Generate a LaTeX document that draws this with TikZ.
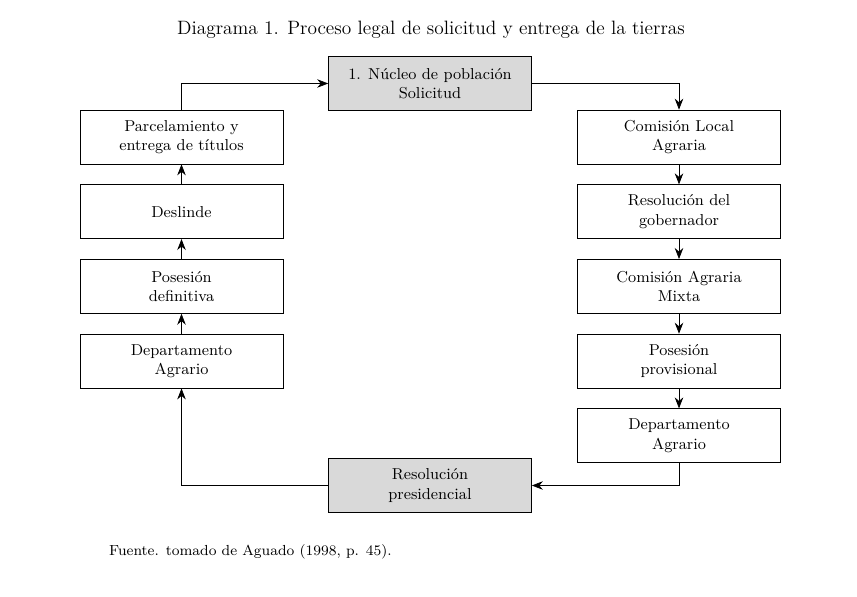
\documentclass[tikz,border=0pt]{standalone}
\usepackage{tikz}
\usetikzlibrary{arrows.meta, positioning}
\tikzstyle{paso} = [rectangle, minimum height=1.08cm, minimum width=4.06cm, text centered, align=center, draw=black, font=\small]
\tikzstyle{clave} = [paso, fill=gray!30]
\tikzstyle{arrow} = [->,>={Stealth[length=2.2mm,width=1.7mm]}]

\begin{document}
\begin{tikzpicture}[x=0.02cm, y=-0.02cm]
        \useasboundingbox (0,0) rectangle (857,597);
        \node (titulo) at (431,30) {\fontsize{11}{13}\selectfont Diagrama 1. Proceso legal de solicitud y entrega de la tierras};
        \node (nucleo) [clave] at (430,83.5) {1. Núcleo de población\\Solicitud};
        \node (resol) [clave] at (430,485.5) {Resolución\\presidencial};

        \node (comision) [paso] at (679,137) {Comisión Local\\Agraria};
        \node (gober) [paso, below=0.4cm of comision] {Resolución del\\gobernador};
        \node (mixta) [paso, below=0.4cm of gober] {Comisión Agraria\\Mixta};
        \node (provis) [paso, below=0.4cm of mixta] {Posesión\\provisional};
        \node (deptoder) [paso, below=0.4cm of provis] {Departamento\\Agrario};

        \node (parcel) [paso] at (181.5,137) {Parcelamiento y\\entrega de títulos};
        \node (deslinde) [paso, below=0.4cm of parcel] {Deslinde};
        \node (defin) [paso, below=0.4cm of deslinde] {Posesión\\definitiva};
        \node (deptoizq) [paso, below=0.4cm of defin] {Departamento\\Agrario};

        \node (fuente) [anchor=west, font=\fontsize{8.3}{10}\selectfont] at (103,552) {Fuente. tomado de Aguado (1998, p. 45).};

        \draw [arrow] (nucleo.east) -| (comision.north);
        \draw [arrow] (comision) -- (gober);
        \draw [arrow] (gober) -- (mixta);
        \draw [arrow] (mixta) -- (provis);
        \draw [arrow] (provis) -- (deptoder);
        \draw [arrow] (deptoder.south) |- (resol.east);
        \draw [arrow] (resol.west) -| (deptoizq.south);
        \draw [arrow] (deptoizq) -- (defin);
        \draw [arrow] (defin) -- (deslinde);
        \draw [arrow] (deslinde) -- (parcel);
        \draw [arrow] (parcel.north) |- (nucleo.west);
    \end{tikzpicture}
\end{document}
